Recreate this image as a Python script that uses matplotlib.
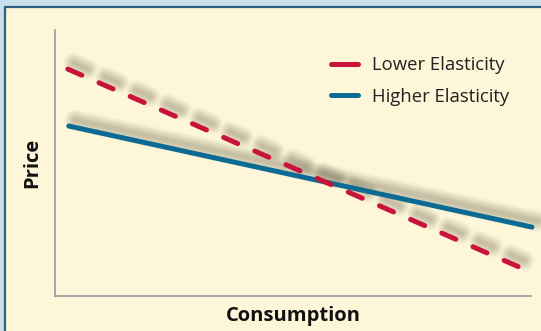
import matplotlib
matplotlib.use("Agg")
import matplotlib.pyplot as plt
from matplotlib.lines import Line2D
from matplotlib.patches import Rectangle
from matplotlib import transforms

plt.rcParams['font.family'] = ['Open Sans', 'DejaVu Sans']
plt.rcParams['lines.scale_dashes'] = False

# data (arbitrary units, axes run 0..10)
lower_x = [0.27, 9.89]
lower_y = [8.53, 0.98]
higher_x = [0.29, 10.02]
higher_y = [6.39, 2.59]
labels = ["Lower Elasticity", "Higher Elasticity"]

red = "#c8143c"
blue = "#0b6b94"
cream = "#fdf6d8"
outer = "#c9e0ea"

fig = plt.figure(figsize=(5.41, 3.31), dpi=100)
fig.patch.set_facecolor(outer)
fig.patches.append(Rectangle((5 / 541, -0.1), 1.2, (331 - 7) / 331 + 0.1,
                             transform=fig.transFigure, facecolor=cream,
                             edgecolor="#2e5f80", linewidth=1.6, zorder=-5))

ax = fig.add_axes([55 / 541, 35 / 331, 476 / 541, 266 / 331])
ax.set_facecolor("none")
ax.set_xlim(0, 10)
ax.set_ylim(0, 10)
ax.set_xticks([])
ax.set_yticks([])
for s in ["top", "right"]:
    ax.spines[s].set_visible(False)
for s in ["left", "bottom"]:
    ax.spines[s].set_color("#9a9a9a")
    ax.spines[s].set_linewidth(1.2)

# soft blurred shadow, offset up and right
shadow = ax.transData + transforms.ScaledTranslation(6 / 100, 6 / 100, fig.dpi_scale_trans)
for lw in [15, 13, 11, 9.5, 8, 6.5, 5, 3.5, 2]:
    ax.plot(lower_x, lower_y, color="#5f5a45", lw=lw, alpha=0.045, transform=shadow,
            dashes=(11, 13.5), dash_capstyle="round", clip_on=False, zorder=1)
    ax.plot(higher_x, higher_y, color="#5f5a45", lw=lw, alpha=0.045, transform=shadow,
            solid_capstyle="round", clip_on=False, zorder=1)

ax.plot(lower_x, lower_y, color=red, lw=3.6, dashes=(11, 13.5),
        dash_capstyle="round", clip_on=False, zorder=3)
ax.plot(higher_x, higher_y, color=blue, lw=3.6, solid_capstyle="round",
        clip_on=False, zorder=2)

handles = [Line2D([], [], color=red, lw=3.6, solid_capstyle="round"),
           Line2D([], [], color=blue, lw=3.6, solid_capstyle="round")]
leg = ax.legend(handles, labels, loc="center left",
                bbox_to_anchor=(331 / 541, (331 - 81) / 331),
                bbox_transform=fig.transFigure, frameon=False,
                fontsize=13.3, handlelength=1.45, handletextpad=0.75,
                labelspacing=0.75, borderpad=0, borderaxespad=0)
for t in leg.get_texts():
    t.set_color("#222222")

ax.set_xlabel("Consumption", fontsize=14.5, fontweight="bold", color="#111111", labelpad=7)
ax.set_ylabel("Price", fontsize=14.5, fontweight="bold", color="#111111", labelpad=9)

fig.savefig("out.png", dpi=100, facecolor=fig.get_facecolor())
